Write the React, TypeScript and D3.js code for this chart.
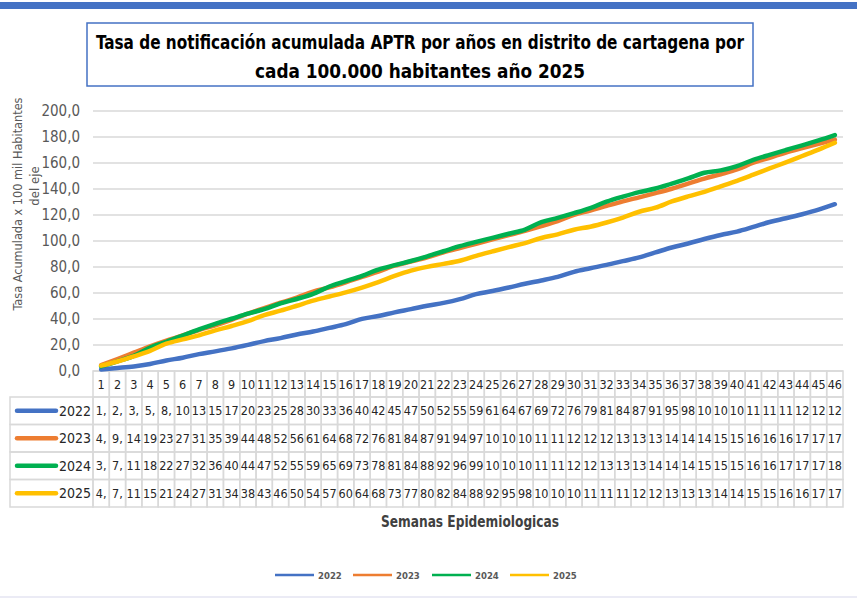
import React from "react";
import * as d3 from "d3";

// Semanas epidemiologicas 1..46
const weeks: number[] = d3.range(1, 47);
const years = ["2022", "2023", "2024", "2025"];
const yTicks = [0, 20, 40, 60, 80, 100, 120, 140, 160, 180, 200];

const v2022 = [1.2, 2.3, 3.5, 5.4, 8.1, 10.2, 13.0, 15.1, 17.4, 20.1, 23.0, 25.3, 28.1, 30.4, 33.2, 36.0, 40.1, 42.3, 45.1, 47.6, 50.2, 52.4, 55.3, 59.1, 61.5, 64.2, 67.1, 69.6, 72.4, 76.3, 79.0, 81.6, 84.5, 87.4, 91.2, 95.0, 98.1, 101.5, 104.6, 107.2, 110.8, 114.6, 117.5, 120.6, 124.1, 128.3];
const v2023 = [4.5, 9.2, 14.1, 19.0, 23.4, 27.3, 31.5, 35.2, 39.4, 44.1, 48.3, 52.5, 56.4, 61.0, 64.3, 68.2, 72.4, 76.5, 81.0, 84.2, 87.5, 91.3, 94.6, 97.8, 101.2, 104.5, 107.8, 111.4, 115.3, 120.1, 123.4, 127.0, 130.5, 133.6, 136.8, 140.2, 144.1, 148.0, 151.3, 155.0, 160.2, 164.0, 168.1, 171.5, 174.8, 178.0];
const v2024 = [3.5, 7.4, 11.6, 18.1, 22.5, 27.2, 32.0, 36.3, 40.2, 44.1, 47.6, 52.0, 55.4, 59.3, 65.0, 69.1, 73.2, 78.0, 81.4, 84.6, 88.2, 92.1, 96.0, 99.3, 102.4, 105.6, 108.8, 114.5, 117.8, 121.4, 125.3, 130.2, 134.1, 137.6, 140.4, 144.2, 148.1, 152.5, 154.3, 157.6, 162.4, 166.3, 170.0, 173.6, 177.4, 181.5];
const v2025 = [4.1, 7.3, 11.2, 15.5, 21.0, 24.3, 27.4, 31.2, 34.6, 38.3, 43.0, 46.4, 50.2, 54.1, 57.3, 60.5, 64.2, 68.4, 73.1, 77.2, 80.1, 82.4, 84.8, 88.6, 92.0, 95.3, 98.4, 102.3, 105.1, 108.7, 111.0, 114.2, 118.0, 122.5, 125.6, 130.4, 134.3, 137.8, 142.0, 146.3, 151.0, 155.8, 160.5, 165.4, 170.3, 175.6];

const COLORS = ["#4472C4", "#ED7D31", "#00B050", "#FFC000"];
const FONT = "'Liberation Sans Narrow', 'DejaVu Sans Condensed', 'Arial Narrow', sans-serif";

const W = 857;
const H = 598;

const App: React.FC = () => {
    const series = [v2022, v2023, v2024, v2025];

    const x = d3.scaleBand<number>().domain(weeks).range([93, 843]).padding(0);
    const bw = x.bandwidth();
    const y = d3.scaleLinear().domain([0, 200]).range([371, 111]);

    const line = d3
        .line<number>()
        .x((_, i) => (x(weeks[i]) as number) + bw / 2)
        .y(d => y(d))
        .curve(d3.curveMonotoneX);

    // table geometry
    const tableTop = 371;
    const headerH = 26;
    const rowH = 27.5;
    const labelLeft = 10;

    // the table cells only show the first two characters
    const cellText = (v: number) => v.toFixed(1).replace(".", ",").slice(0, 2);

    const legendX = [275, 353, 432, 510];

    return (
        <svg width={W} height={H} style={{ position: "absolute", left: 0, top: 0, background: "#fff" }}>
            <rect x={0} y={0} width={W} height={H} fill="#fff" />
            <rect x={0} y={2} width={W} height={7} fill="#4472C4" />
            <rect x={0} y={596} width={W} height={2} fill="#ebebf5" />

            {/* title */}
            <rect x={87} y={23} width={666} height={63} fill="#fff" stroke="#4472C4" strokeWidth={1.5} />
            <text x={420} y={49} textAnchor="middle" fontFamily={FONT} fontWeight="bold" fontSize={19} fill="#000"
                textLength={648} lengthAdjust="spacingAndGlyphs">
                Tasa de notificación acumulada APTR por años en distrito de cartagena por
            </text>
            <text x={420} y={78} textAnchor="middle" fontFamily={FONT} fontWeight="bold" fontSize={19} fill="#000"
                textLength={330} lengthAdjust="spacingAndGlyphs">
                cada 100.000 habitantes año 2025
            </text>

            {/* y axis title */}
            <text transform="translate(22,204) rotate(-90)" textAnchor="middle" fontFamily={FONT} fontSize={13} fill="#595959"
                textLength={213} lengthAdjust="spacingAndGlyphs">
                Tasa Acumulada x 100 mil Habitantes
            </text>
            <text transform="translate(39,186) rotate(-90)" textAnchor="middle" fontFamily={FONT} fontSize={13} fill="#595959">
                del eje
            </text>

            {/* gridlines & y ticks */}
            {yTicks.map(t => (
                <g key={t}>
                    {t > 0 && <line x1={93} x2={843} y1={y(t)} y2={y(t)} stroke="#d9d9d9" strokeWidth={1.5} />}
                    <text x={80} y={y(t) + 5} textAnchor="end" fontFamily={FONT} fontSize={15} fill="#595959">
                        {t.toFixed(1).replace(".", ",")}
                    </text>
                </g>
            ))}

            {/* data table */}
            <g fontFamily={FONT} fontSize={12.5} fill="#262626">
                {/* header row */}
                {weeks.map(w => (
                    <g key={"h" + w}>
                        <rect x={x(w)} y={tableTop} width={bw} height={headerH} fill="none" stroke="#d9d9d9" strokeWidth={1.5} />
                        <text x={(x(w) as number) + bw / 2} y={tableTop + headerH / 2 + 4.5} textAnchor="middle">{w}</text>
                    </g>
                ))}
                {series.map((vals, si) => {
                    const ry = tableTop + headerH + si * rowH;
                    return (
                        <g key={"r" + si}>
                            <rect x={labelLeft} y={ry} width={93 - labelLeft} height={rowH} fill="none" stroke="#d9d9d9" strokeWidth={1.5} />
                            <line x1={17} x2={56} y1={ry + rowH / 2} y2={ry + rowH / 2} stroke={COLORS[si]} strokeWidth={4.5} strokeLinecap="round" />
                            <text x={59} y={ry + rowH / 2 + 5} fontSize={14}>{years[si]}</text>
                            {vals.map((v, i) => (
                                <g key={i}>
                                    <rect x={x(weeks[i])} y={ry} width={bw} height={rowH} fill="none" stroke="#d9d9d9" strokeWidth={1.5} />
                                    <text x={(x(weeks[i]) as number) + bw / 2} y={ry + rowH / 2 + 4.5} textAnchor="middle">{cellText(v)}</text>
                                </g>
                            ))}
                        </g>
                    );
                })}
            </g>

            {/* axis line */}
            <line x1={93} x2={843} y1={y(0)} y2={y(0)} stroke="#d9d9d9" strokeWidth={1.5} />

            {/* lines */}
            {series.map((vals, si) => (
                <path key={"l" + si} d={line(vals) as string} fill="none" stroke={COLORS[si]} strokeWidth={4.5}
                    strokeLinejoin="round" strokeLinecap="round" />
            ))}

            {/* x axis title */}
            <text x={470} y={527} textAnchor="middle" fontFamily={FONT} fontWeight="bold" fontSize={15} fill="#404040"
                textLength={178} lengthAdjust="spacingAndGlyphs">
                Semanas Epidemiologicas
            </text>

            {/* legend */}
            {years.map((yr, i) => (
                <g key={"lg" + yr}>
                    <line x1={legendX[i]} x2={legendX[i] + 39} y1={575} y2={575} stroke={COLORS[i]} strokeWidth={2.5} />
                    <text x={legendX[i] + 43} y={578.5} fontFamily={FONT} fontWeight="bold" fontSize={9.5} fill="#595959">{yr}</text>
                </g>
            ))}
        </svg>
    );
};

export default App;
